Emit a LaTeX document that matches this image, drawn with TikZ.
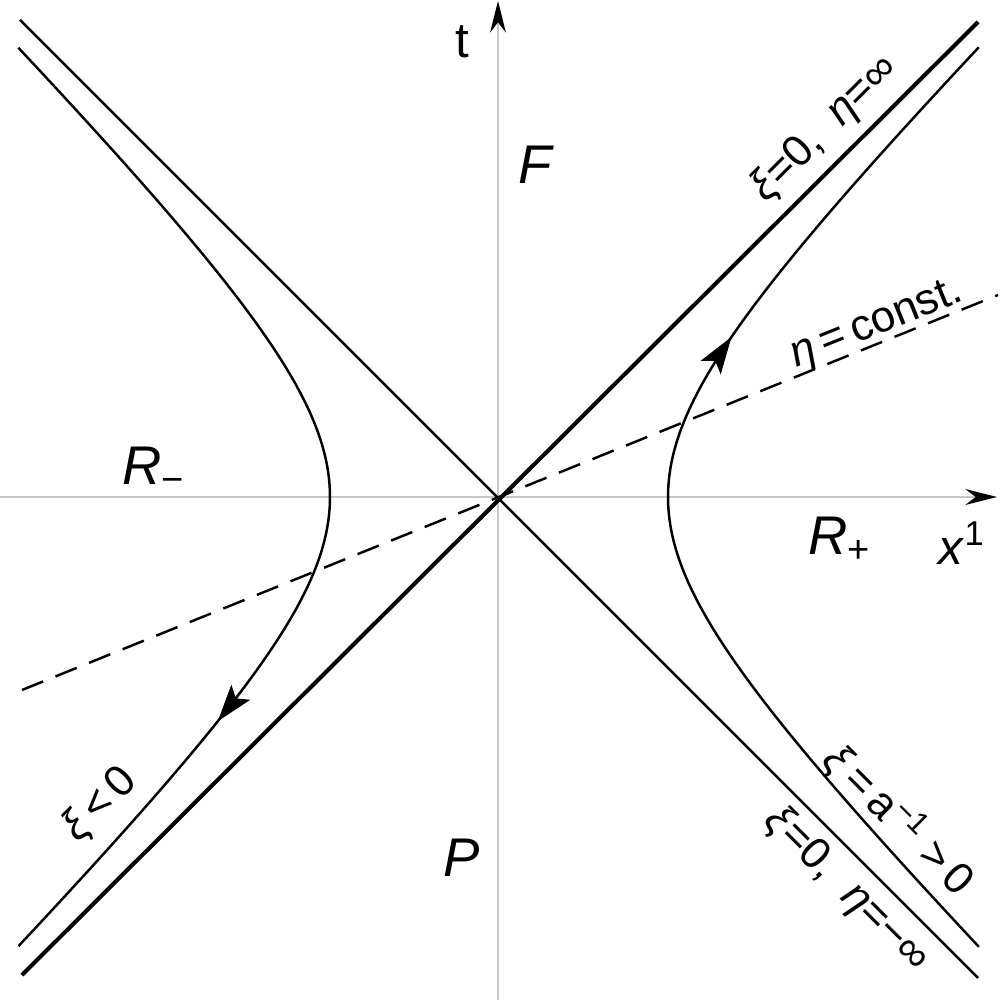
\documentclass[tikz,border=0pt]{standalone}
\usepackage{fontspec}
\setmainfont{Liberation Sans}
\usetikzlibrary{arrows.meta}

\tikzset{
  axis/.style={draw=black!22, line width=0.5pt, -{Stealth[length=9pt,width=4.5pt,black]}},
  cone/.style={line width=1.15pt},
  thincone/.style={line width=0.7pt},
  orbit/.style={line width=0.7pt},
  flow/.style={-{Stealth[length=10.5pt,width=6.8pt,inset=2.2pt]}},
  slice/.style={line width=0.7pt, dash pattern=on 6.5pt off 3.8pt},
  region/.style={font=\fontsize{15.5}{18}\selectfont\itshape},
  axlabel/.style={font=\fontsize{14}{17}\selectfont},
  curvelabel/.style={font=\fontsize{12.5}{15}\selectfont, inner sep=0pt},
}

\begin{document}
\begin{tikzpicture}
  \useasboundingbox (-4.98,-5.03) rectangle (5.02,4.97);

  \coordinate (xl) at (-4.98,0);
  \coordinate (xr) at (4.99,0);
  \coordinate (tb) at (0,-5.03);
  \coordinate (tt) at (0,4.96);
  \draw[axis] (xl) -- (xr);
  \draw[axis] (tb) -- (tt);

  \coordinate (f1) at (-4.76,-4.78);
  \coordinate (f2) at (4.80,4.75);
  \coordinate (g1) at (-4.78,4.77);
  \coordinate (g2) at (4.80,-4.81);
  \draw[cone] (f1) -- (f2);
  \draw[thincone] (g1) -- (g2);

  \coordinate (d1) at (-4.76,-1.93);
  \coordinate (d2) at (5.00,2.02);
  \draw[slice] (d1) -- (d2);

  \draw[orbit, flow] plot[domain=-1.70:0.84, samples=60, smooth] ({1.70*cosh(\x)},{1.70*sinh(\x)});
  \draw[orbit] plot[domain=0.82:1.70, samples=30, smooth] ({1.70*cosh(\x)},{1.70*sinh(\x)});
  \draw[orbit, flow] plot[domain=-1.71:1.10, samples=60, smooth] ({-1.68*cosh(\x)},{-1.68*sinh(\x)});
  \draw[orbit] plot[domain=1.08:1.71, samples=30, smooth] ({-1.68*cosh(\x)},{-1.68*sinh(\x)});

  \node[axlabel] (tlab) at (-0.36,4.55) {t};
  \node[axlabel] (xlab) at (4.64,-0.46) {\textit{x}\textsuperscript{1}};

  \node[region] (future) at (0.37,3.32) {F};
  \node[region] (past) at (-0.36,-3.61) {P};
  \node[region] (rminus) at (-3.44,0.27) {R\textsubscript{\upshape −}};
  \node[region] (rplus) at (3.42,-0.43) {R\textsubscript{\upshape +}};

  \node[curvelabel, rotate=45] (hplus) at (3.27,3.68) {\textit{ξ}=0,\ \ \textit{η}=∞};
  \node[curvelabel, rotate=21.8] (eta) at (3.79,1.72) {\textit{η}\,=\,const.};
  \node[curvelabel, rotate=45] (xineg) at (-3.98,-3.08) {\textit{ξ}\,<\,0};
  \node[curvelabel, rotate=-45] (xipos) at (4.01,-3.23) {\textit{ξ}\,=\,a\textsuperscript{−1}\ >\,0};
  \node[curvelabel, rotate=-45] (hminus) at (3.49,-3.93) {\textit{ξ}=0,\ \ \textit{η}=−∞};
\end{tikzpicture}
\end{document}
